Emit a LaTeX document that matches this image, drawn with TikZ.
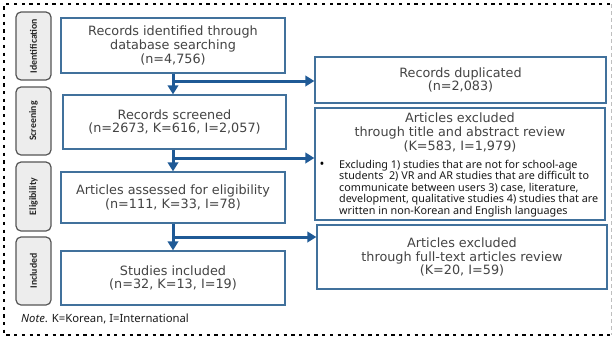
\documentclass[tikz,border=0pt]{standalone}
\usepackage{fontspec}
\setmainfont{DejaVu Sans}
\newfontfamily\stagefont{Carlito}
\newfontfamily\notefont{Noto Sans}
\usetikzlibrary{arrows.meta}
\definecolor{boxblue}{HTML}{41719C}
\definecolor{arrowblue}{HTML}{1F5A96}
\definecolor{stagefill}{HTML}{EDEDED}
\definecolor{stageline}{HTML}{555555}
\definecolor{txt}{HTML}{444444}
\tikzset{
  flowbox/.style={draw=boxblue, line width=1.3pt, fill=white, align=center,
    inner sep=0pt, text=txt, font=\fontsize{12.8}{13.8}\selectfont},
  stagebox/.style={draw=stageline, line width=1.2pt, fill=stagefill,
    rounded corners=5pt, minimum width=35pt, inner sep=0pt},
  stagetext/.style={rotate=90, font=\stagefont\bfseries\fontsize{9.8}{11}\selectfont, text=black!85},
  flowarrow/.style={draw=arrowblue, line width=3pt,
    -{Triangle[length=9pt,width=10.5pt]}},
}
\begin{document}
\begin{tikzpicture}[x=1pt,y=-1pt]
\useasboundingbox (0,0) rectangle (612,343);

% outer frame
\draw[black, line width=2.8pt, dash pattern=on 3.2pt off 4.5pt]
  (610,4) -- (4,4) -- (4,335) -- (610,335);
\draw[black!25, line width=1pt, dash pattern=on 4pt off 3pt] (611,4) -- (611,335);

% stage labels
\node[stagebox, minimum height=68pt] (sid) at (33.5,46) {};
\node[stagetext] at (sid) {Identification};
\node[stagebox, minimum height=68pt] (ssc) at (33.5,121) {};
\node[stagetext] at (ssc) {Screening};
\node[stagebox, minimum height=69pt] (sel) at (33.5,196.5) {};
\node[stagetext] at (sel) {Eligibility};
\node[stagebox, minimum height=68pt] (sin) at (33.5,271) {};
\node[stagetext] at (sin) {Included};

% main flow boxes
\node[flowbox, minimum width=224pt, minimum height=55pt] (ident) at (173,45.5)
  {Records identified through\\database searching\\(n=4,756)};
\node[flowbox, minimum width=223pt, minimum height=54pt] (screen) at (174.5,122)
  {Records screened\\(n=2673, K=616, I=2,057)};
\node[flowbox, minimum width=224pt, minimum height=51pt] (elig) at (173,197.5)
  {Articles assessed for eligibility\\(n=111, K=33, I=78)};
\node[flowbox, minimum width=224pt, minimum height=54pt] (incl) at (173,278)
  {Studies included\\(n=32, K=13, I=19)};

% exclusion boxes
\node[flowbox, minimum width=291pt, minimum height=46pt] (dup) at (460.5,80)
  {Records duplicated\\(n=2,083)};
\node[flowbox, minimum width=290pt, minimum height=112pt] (title) at (460,164) {};
\node[align=center, text=txt, inner sep=0pt, font=\fontsize{12.8}{13.8}\selectfont,
  anchor=north] (titlehead) at (460,112.5)
  {Articles excluded\\through title and abstract review\\(K=583, I=1,979)};
\node[anchor=north west, inner sep=0pt, align=left, text=black!90,
  font=\notefont\fontsize{10.8}{11.4}\selectfont] (titlelist) at (339,160)
  {Excluding 1) studies that are not for school-age\\
   students\ \ 2) VR and AR studies that are difficult to\\
   communicate between users 3) case, literature,\\
   development, qualitative studies 4) studies that are\\
   written in non-Korean and English languages};
\node[font=\notefont\fontsize{13}{13}\selectfont, inner sep=0pt] (bullet) at (322,165.5) {\textbullet};
\node[flowbox, minimum width=290pt, minimum height=64pt] (full) at (462,257)
  {Articles excluded\\through full-text articles review\\(K=20, I=59)};

% connectors
\coordinate (j1) at (173,81);
\coordinate (j2) at (173,158);
\coordinate (j3) at (173,237);
\draw[flowarrow] (ident.south -| j1) -- (screen.north -| j1);
\draw[flowarrow] (j1) -- (dup.west |- j1);
\draw[flowarrow] (screen.south -| j2) -- (elig.north -| j2);
\draw[flowarrow] (j2) -- (title.west |- j2);
\draw[flowarrow] (elig.south -| j3) -- (incl.north -| j3);
\draw[flowarrow] (j3) -- (full.west |- j3);

% note
\node[anchor=west, inner sep=0pt, font=\notefont\fontsize{11.3}{13}\selectfont, text=black!90]
  (note) at (21,319) {\textit{Note}. K=Korean, I=International};
\end{tikzpicture}
\end{document}
